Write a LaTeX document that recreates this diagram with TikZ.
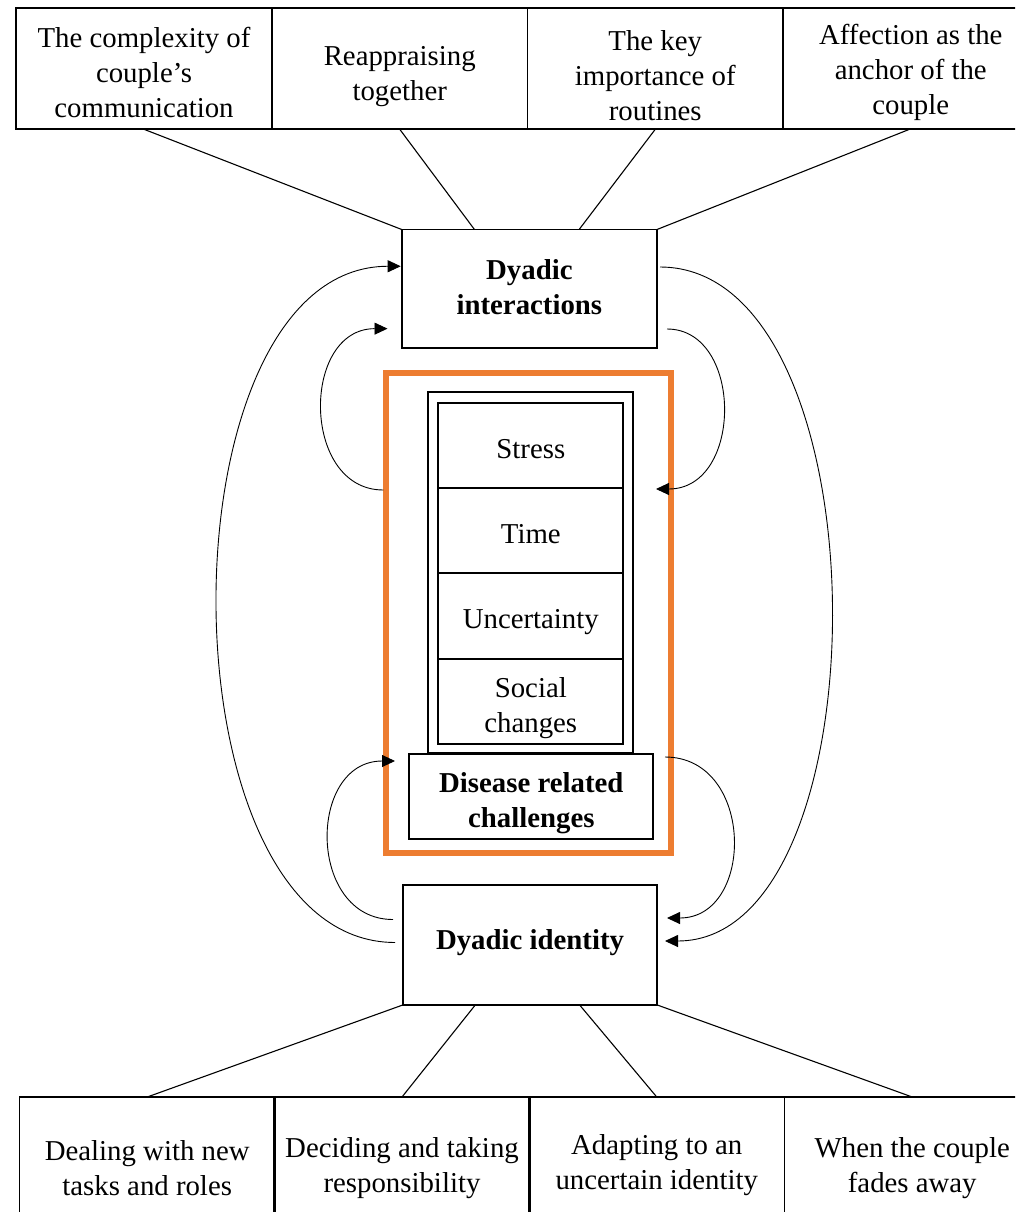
\documentclass[tikz,border=0pt]{standalone}
\usepackage{fontspec}
\setmainfont{Liberation Serif}
\usetikzlibrary{arrows.meta,calc}
\definecolor{accent}{HTML}{ED7D31}
\begin{document}
\begin{tikzpicture}[x=1pt,y=-1pt,
  font=\fontsize{28.8}{35}\selectfont,
  every node/.style={outer sep=0pt, inner sep=0pt},
  frame/.style={draw, line width=1.8pt},
  themebox/.style={frame, minimum width=255.5pt, minimum height=121pt},
  cell/.style={frame, minimum width=185pt, minimum height=85.3pt},
  txt/.style={align=center},
  boldtxt/.style={align=center, font=\fontsize{28.8}{35}\selectfont\bfseries},
  link/.style={line width=1.1pt},
  cycle/.style={line width=0.9pt, -{Triangle[length=13pt,width=12pt]}}]
\useasboundingbox (0,0) rectangle (1015,1212);
\clip (0,0) rectangle (1015,1212);

% sub-themes of dyadic interactions
\node[themebox] (t1) at (144,68.8) {};
\node[themebox] (t2) at (399.75,68.8) {};
\node[themebox] (t3) at (655.25,68.8) {};
\node[themebox] (t4) at (910.75,68.3) {};
\node[txt] (t1-l) at ($(t1)+(0,3.5)$) {The complexity of\\couple's\\communication};
\node[txt] (t2-l) at ($(t2)+(0,8)$)   {Reappraising\\together};
\node[txt] (t3-l) at ($(t3)+(0,6.5)$) {The key\\importance of\\routines};
\node[txt] (t4-l) at ($(t4)+(0,4)$)   {Affection as the\\anchor of the\\couple};

% core categories
\node[frame, minimum width=255.3pt, minimum height=118.5pt] (di) at (529.35,288.75) {};
\node[boldtxt] (di-l) at ($(di)+(0,-2)$) {Dyadic\\interactions};
\node[frame, minimum width=254.6pt, minimum height=120pt] (id) at (530,945) {};
\node[boldtxt] (id-l) at ($(id)+(0,-2.5)$) {Dyadic identity};

% disease related challenges
\node[draw=accent, line width=6pt, minimum width=285pt, minimum height=480.3pt] (zone) at (528.8,613.15) {};
\node[frame, minimum width=205pt, minimum height=361.3pt] (stack) at (530.8,572.35) {};
\node[cell] (c1) at (530.8,445.35) {};
\node[cell] (c2) at (530.8,530.65) {};
\node[cell] (c3) at (530.8,615.95) {};
\node[cell] (c4) at (530.8,701.35) {};
\node[txt] (c1-l) at ($(c1)+(0,4)$) {Stress};
\node[txt] (c2-l) at ($(c2)+(0,3)$) {Time};
\node[txt] (c3-l) at ($(c3)+(0,6)$) {Uncertainty};
\node[txt] (c4-l) at ($(c4)+(0,7)$) {Social\\changes};
\node[frame, fill=white, minimum width=244pt, minimum height=85.3pt] (dis) at (531.3,796.65) {};
\node[boldtxt] (dis-l) at ($(dis)+(0,7)$) {Disease related\\challenges};

% sub-themes of dyadic identity
\node[themebox, minimum height=143pt] (b1) at (147.2,1168.5) {};
\node[themebox, minimum height=143pt] (b2) at (402,1168.5) {};
\node[themebox, minimum height=143pt] (b3) at (656.75,1168.5) {};
\node[themebox, minimum height=143pt] (b4) at (912.25,1168.5) {};
\node[txt] (b1-l) at (b1) {Dealing with new\\tasks and roles};
\node[txt] (b2-l) at ($(b2)+(0,-0.5)$) {Deciding and taking\\responsibility};
\node[txt] (b3-l) at ($(b3)+(0,-3)$) {Adapting to an\\uncertain identity};
\node[txt] (b4-l) at (b4) {When the couple\\fades away};

% links between sub-themes and core categories
\draw[link] (t1.south) -- (di.north west);
\draw[link] (t2.south) -- ($(di.north west)!0.285!(di.north east)$);
\draw[link] (t3.south) -- ($(di.north west)!0.695!(di.north east)$);
\draw[link] (t4.south) -- (di.north east);
\draw[link] (b1.north) -- (id.south west);
\draw[link] (b2.north) -- ($(id.south west)!0.285!(id.south east)$);
\draw[link] (b3.north) -- ($(id.south west)!0.695!(id.south east)$);
\draw[link] (b4.north) -- (id.south east);

% feedback loops
\draw[cycle] ($(id.west)+(-7.5,-2.5)$) .. controls +(-238,0) and +(-243,0) .. ($(di.west)+(-1,-22.5)$);
\draw[cycle] ($(zone.west)+(-3,-123.15)$) .. controls +(-82.3,0) and +(-86.5,0) .. ($(di.west)+(-14.2,39.9)$);
\draw[cycle] ($(di.east)+(10,40.25)$) .. controls +(76.5,0) and +(87.5,0) .. ($(zone.east)+(-15.3,-124.15)$);
\draw[cycle] ($(di.east)+(3,-21.75)$) .. controls +(227,0) and +(222,0) .. ($(id.east)+(7.7,-4)$);
\draw[cycle] ($(dis.east)+(11.7,-39.65)$) .. controls +(90,0) and +(88,0) .. ($(id.east)+(9.7,-27)$);
\draw[cycle] ($(id.west)+(-9.7,-25.5)$) .. controls +(-86,0) and +(-88,0) .. ($(dis.west)+(-14.3,-35.65)$);
\end{tikzpicture}
\end{document}
